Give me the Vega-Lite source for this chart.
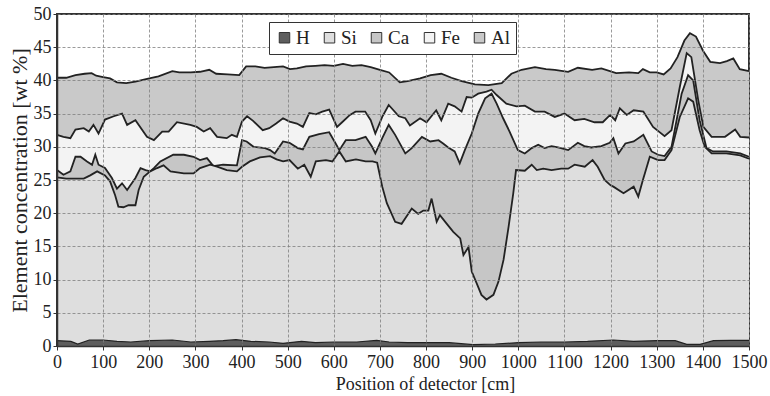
{
"$schema":"https://vega.github.io/schema/vega-lite/v6.json",
"width":692,"height":332,
"autosize":"none",
"padding":{"left":57,"top":14,"right":21,"bottom":50},
"background":"white",
"config":{"view":{"stroke":"#333","strokeWidth":2},"font":"Liberation Serif"},
"datasets":{
"Al":[{"s":"Al","x":0,"v":40.4},{"s":"Al","x":20,"v":40.4},{"s":"Al","x":40,"v":40.8},{"s":"Al","x":60,"v":41.0},{"s":"Al","x":75,"v":41.1},{"s":"Al","x":85,"v":40.7},{"s":"Al","x":100,"v":40.5},{"s":"Al","x":115,"v":40.3},{"s":"Al","x":130,"v":39.7},{"s":"Al","x":150,"v":39.6},{"s":"Al","x":170,"v":39.8},{"s":"Al","x":200,"v":40.3},{"s":"Al","x":220,"v":40.6},{"s":"Al","x":250,"v":41.4},{"s":"Al","x":265,"v":41.2},{"s":"Al","x":290,"v":41.2},{"s":"Al","x":310,"v":41.3},{"s":"Al","x":330,"v":41.6},{"s":"Al","x":345,"v":41.0},{"s":"Al","x":370,"v":40.9},{"s":"Al","x":395,"v":40.8},{"s":"Al","x":410,"v":42.1},{"s":"Al","x":430,"v":42.1},{"s":"Al","x":450,"v":41.9},{"s":"Al","x":470,"v":42.0},{"s":"Al","x":490,"v":42.1},{"s":"Al","x":505,"v":41.7},{"s":"Al","x":520,"v":41.8},{"s":"Al","x":540,"v":42.1},{"s":"Al","x":560,"v":42.2},{"s":"Al","x":580,"v":42.3},{"s":"Al","x":600,"v":42.2},{"s":"Al","x":620,"v":42.5},{"s":"Al","x":640,"v":42.2},{"s":"Al","x":660,"v":42.3},{"s":"Al","x":680,"v":42.0},{"s":"Al","x":700,"v":41.6},{"s":"Al","x":720,"v":41.2},{"s":"Al","x":743,"v":39.7},{"s":"Al","x":760,"v":39.9},{"s":"Al","x":787,"v":40.3},{"s":"Al","x":810,"v":40.8},{"s":"Al","x":833,"v":41.0},{"s":"Al","x":855,"v":40.4},{"s":"Al","x":877,"v":39.9},{"s":"Al","x":906,"v":39.4},{"s":"Al","x":935,"v":39.3},{"s":"Al","x":964,"v":39.6},{"s":"Al","x":985,"v":41.0},{"s":"Al","x":1007,"v":41.6},{"s":"Al","x":1036,"v":42.0},{"s":"Al","x":1060,"v":41.7},{"s":"Al","x":1079,"v":41.6},{"s":"Al","x":1108,"v":41.3},{"s":"Al","x":1129,"v":41.9},{"s":"Al","x":1160,"v":41.6},{"s":"Al","x":1180,"v":41.8},{"s":"Al","x":1212,"v":41.1},{"s":"Al","x":1240,"v":41.2},{"s":"Al","x":1260,"v":41.1},{"s":"Al","x":1270,"v":41.7},{"s":"Al","x":1285,"v":41.2},{"s":"Al","x":1300,"v":41.2},{"s":"Al","x":1315,"v":40.9},{"s":"Al","x":1330,"v":41.8},{"s":"Al","x":1345,"v":43.5},{"s":"Al","x":1360,"v":46.0},{"s":"Al","x":1372,"v":47.1},{"s":"Al","x":1385,"v":46.6},{"s":"Al","x":1400,"v":44.5},{"s":"Al","x":1416,"v":42.8},{"s":"Al","x":1437,"v":42.6},{"s":"Al","x":1452,"v":42.9},{"s":"Al","x":1466,"v":43.3},{"s":"Al","x":1480,"v":41.7},{"s":"Al","x":1500,"v":41.4}],
"Fe":[{"s":"Fe","x":0,"v":31.8},{"s":"Fe","x":14,"v":31.5},{"s":"Fe","x":29,"v":31.3},{"s":"Fe","x":40,"v":32.6},{"s":"Fe","x":58,"v":32.8},{"s":"Fe","x":69,"v":32.3},{"s":"Fe","x":79,"v":33.3},{"s":"Fe","x":90,"v":32.0},{"s":"Fe","x":104,"v":34.1},{"s":"Fe","x":123,"v":34.6},{"s":"Fe","x":141,"v":35.0},{"s":"Fe","x":152,"v":33.3},{"s":"Fe","x":170,"v":34.0},{"s":"Fe","x":195,"v":31.5},{"s":"Fe","x":210,"v":31.0},{"s":"Fe","x":228,"v":32.3},{"s":"Fe","x":242,"v":32.3},{"s":"Fe","x":260,"v":33.7},{"s":"Fe","x":289,"v":33.3},{"s":"Fe","x":303,"v":33.0},{"s":"Fe","x":318,"v":32.3},{"s":"Fe","x":332,"v":32.8},{"s":"Fe","x":347,"v":31.5},{"s":"Fe","x":368,"v":31.3},{"s":"Fe","x":379,"v":31.8},{"s":"Fe","x":390,"v":31.5},{"s":"Fe","x":401,"v":33.8},{"s":"Fe","x":412,"v":34.6},{"s":"Fe","x":425,"v":33.9},{"s":"Fe","x":446,"v":32.5},{"s":"Fe","x":460,"v":32.8},{"s":"Fe","x":475,"v":33.5},{"s":"Fe","x":490,"v":34.3},{"s":"Fe","x":504,"v":33.8},{"s":"Fe","x":520,"v":33.5},{"s":"Fe","x":533,"v":33.0},{"s":"Fe","x":547,"v":35.1},{"s":"Fe","x":561,"v":34.9},{"s":"Fe","x":575,"v":35.3},{"s":"Fe","x":590,"v":35.6},{"s":"Fe","x":607,"v":33.0},{"s":"Fe","x":618,"v":33.7},{"s":"Fe","x":635,"v":34.8},{"s":"Fe","x":647,"v":35.3},{"s":"Fe","x":668,"v":35.3},{"s":"Fe","x":680,"v":34.0},{"s":"Fe","x":690,"v":32.0},{"s":"Fe","x":705,"v":34.5},{"s":"Fe","x":719,"v":36.3},{"s":"Fe","x":741,"v":34.6},{"s":"Fe","x":755,"v":34.3},{"s":"Fe","x":765,"v":33.2},{"s":"Fe","x":787,"v":34.3},{"s":"Fe","x":801,"v":33.7},{"s":"Fe","x":822,"v":35.5},{"s":"Fe","x":833,"v":34.0},{"s":"Fe","x":848,"v":36.5},{"s":"Fe","x":862,"v":36.1},{"s":"Fe","x":877,"v":35.3},{"s":"Fe","x":888,"v":37.5},{"s":"Fe","x":899,"v":37.4},{"s":"Fe","x":913,"v":38.0},{"s":"Fe","x":931,"v":38.3},{"s":"Fe","x":942,"v":38.6},{"s":"Fe","x":953,"v":37.8},{"s":"Fe","x":974,"v":36.5},{"s":"Fe","x":996,"v":36.1},{"s":"Fe","x":1014,"v":36.2},{"s":"Fe","x":1036,"v":35.3},{"s":"Fe","x":1057,"v":35.3},{"s":"Fe","x":1079,"v":34.5},{"s":"Fe","x":1100,"v":35.0},{"s":"Fe","x":1122,"v":34.0},{"s":"Fe","x":1143,"v":34.2},{"s":"Fe","x":1165,"v":33.7},{"s":"Fe","x":1183,"v":33.7},{"s":"Fe","x":1199,"v":34.8},{"s":"Fe","x":1210,"v":34.0},{"s":"Fe","x":1220,"v":35.8},{"s":"Fe","x":1235,"v":34.8},{"s":"Fe","x":1250,"v":35.5},{"s":"Fe","x":1271,"v":35.3},{"s":"Fe","x":1292,"v":33.0},{"s":"Fe","x":1317,"v":31.6},{"s":"Fe","x":1332,"v":32.5},{"s":"Fe","x":1350,"v":39.0},{"s":"Fe","x":1365,"v":44.1},{"s":"Fe","x":1375,"v":43.5},{"s":"Fe","x":1390,"v":37.0},{"s":"Fe","x":1401,"v":33.0},{"s":"Fe","x":1419,"v":31.5},{"s":"Fe","x":1448,"v":31.5},{"s":"Fe","x":1470,"v":32.6},{"s":"Fe","x":1481,"v":31.5},{"s":"Fe","x":1500,"v":31.4}],
"Ca":[{"s":"Ca","x":0,"v":26.5},{"s":"Ca","x":14,"v":25.8},{"s":"Ca","x":29,"v":26.3},{"s":"Ca","x":40,"v":28.5},{"s":"Ca","x":51,"v":28.5},{"s":"Ca","x":65,"v":27.8},{"s":"Ca","x":76,"v":27.3},{"s":"Ca","x":83,"v":28.8},{"s":"Ca","x":90,"v":27.3},{"s":"Ca","x":104,"v":26.8},{"s":"Ca","x":119,"v":25.3},{"s":"Ca","x":130,"v":23.7},{"s":"Ca","x":141,"v":24.5},{"s":"Ca","x":152,"v":23.5},{"s":"Ca","x":170,"v":25.3},{"s":"Ca","x":181,"v":26.8},{"s":"Ca","x":192,"v":26.5},{"s":"Ca","x":202,"v":26.3},{"s":"Ca","x":210,"v":26.8},{"s":"Ca","x":224,"v":27.8},{"s":"Ca","x":252,"v":28.8},{"s":"Ca","x":275,"v":28.8},{"s":"Ca","x":296,"v":28.5},{"s":"Ca","x":310,"v":28.0},{"s":"Ca","x":325,"v":28.3},{"s":"Ca","x":339,"v":27.1},{"s":"Ca","x":360,"v":27.3},{"s":"Ca","x":390,"v":27.2},{"s":"Ca","x":401,"v":31.0},{"s":"Ca","x":411,"v":30.8},{"s":"Ca","x":426,"v":30.0},{"s":"Ca","x":451,"v":29.8},{"s":"Ca","x":462,"v":29.5},{"s":"Ca","x":472,"v":29.0},{"s":"Ca","x":490,"v":30.8},{"s":"Ca","x":504,"v":30.6},{"s":"Ca","x":522,"v":29.8},{"s":"Ca","x":533,"v":29.6},{"s":"Ca","x":547,"v":31.5},{"s":"Ca","x":568,"v":31.9},{"s":"Ca","x":590,"v":32.2},{"s":"Ca","x":604,"v":30.5},{"s":"Ca","x":612,"v":29.5},{"s":"Ca","x":626,"v":31.0},{"s":"Ca","x":647,"v":31.0},{"s":"Ca","x":669,"v":31.5},{"s":"Ca","x":683,"v":30.0},{"s":"Ca","x":690,"v":29.0},{"s":"Ca","x":705,"v":31.3},{"s":"Ca","x":719,"v":33.3},{"s":"Ca","x":733,"v":31.8},{"s":"Ca","x":755,"v":29.0},{"s":"Ca","x":769,"v":29.8},{"s":"Ca","x":791,"v":31.5},{"s":"Ca","x":809,"v":30.8},{"s":"Ca","x":827,"v":31.0},{"s":"Ca","x":837,"v":30.5},{"s":"Ca","x":848,"v":29.9},{"s":"Ca","x":862,"v":29.3},{"s":"Ca","x":873,"v":27.5},{"s":"Ca","x":884,"v":29.5},{"s":"Ca","x":899,"v":32.0},{"s":"Ca","x":913,"v":35.0},{"s":"Ca","x":928,"v":37.3},{"s":"Ca","x":942,"v":38.0},{"s":"Ca","x":953,"v":36.5},{"s":"Ca","x":967,"v":34.3},{"s":"Ca","x":981,"v":32.3},{"s":"Ca","x":999,"v":29.5},{"s":"Ca","x":1014,"v":29.0},{"s":"Ca","x":1029,"v":29.8},{"s":"Ca","x":1043,"v":30.3},{"s":"Ca","x":1057,"v":29.8},{"s":"Ca","x":1072,"v":30.1},{"s":"Ca","x":1086,"v":29.9},{"s":"Ca","x":1108,"v":29.5},{"s":"Ca","x":1129,"v":30.6},{"s":"Ca","x":1143,"v":30.1},{"s":"Ca","x":1158,"v":29.9},{"s":"Ca","x":1180,"v":30.1},{"s":"Ca","x":1198,"v":30.6},{"s":"Ca","x":1206,"v":31.3},{"s":"Ca","x":1217,"v":29.0},{"s":"Ca","x":1232,"v":30.5},{"s":"Ca","x":1250,"v":30.8},{"s":"Ca","x":1271,"v":31.8},{"s":"Ca","x":1289,"v":29.3},{"s":"Ca","x":1303,"v":28.8},{"s":"Ca","x":1317,"v":28.6},{"s":"Ca","x":1332,"v":30.0},{"s":"Ca","x":1354,"v":38.0},{"s":"Ca","x":1368,"v":40.8},{"s":"Ca","x":1379,"v":40.0},{"s":"Ca","x":1393,"v":34.0},{"s":"Ca","x":1408,"v":29.8},{"s":"Ca","x":1422,"v":29.3},{"s":"Ca","x":1451,"v":29.3},{"s":"Ca","x":1481,"v":29.0},{"s":"Ca","x":1500,"v":28.5}],
"Si":[{"s":"Si","x":0,"v":25.4},{"s":"Si","x":20,"v":25.2},{"s":"Si","x":43,"v":25.2},{"s":"Si","x":58,"v":25.2},{"s":"Si","x":72,"v":25.7},{"s":"Si","x":87,"v":26.3},{"s":"Si","x":104,"v":25.7},{"s":"Si","x":115,"v":24.8},{"s":"Si","x":126,"v":22.7},{"s":"Si","x":133,"v":21.0},{"s":"Si","x":144,"v":20.9},{"s":"Si","x":155,"v":21.2},{"s":"Si","x":170,"v":21.2},{"s":"Si","x":177,"v":23.5},{"s":"Si","x":188,"v":25.5},{"s":"Si","x":202,"v":26.3},{"s":"Si","x":217,"v":26.8},{"s":"Si","x":231,"v":27.2},{"s":"Si","x":246,"v":26.3},{"s":"Si","x":275,"v":26.0},{"s":"Si","x":296,"v":26.0},{"s":"Si","x":310,"v":26.8},{"s":"Si","x":332,"v":27.3},{"s":"Si","x":347,"v":27.0},{"s":"Si","x":368,"v":26.5},{"s":"Si","x":390,"v":26.3},{"s":"Si","x":401,"v":27.0},{"s":"Si","x":418,"v":27.8},{"s":"Si","x":440,"v":28.4},{"s":"Si","x":462,"v":28.6},{"s":"Si","x":476,"v":28.1},{"s":"Si","x":490,"v":27.8},{"s":"Si","x":504,"v":28.0},{"s":"Si","x":522,"v":26.7},{"s":"Si","x":536,"v":27.3},{"s":"Si","x":550,"v":25.5},{"s":"Si","x":561,"v":27.8},{"s":"Si","x":583,"v":28.0},{"s":"Si","x":597,"v":27.8},{"s":"Si","x":612,"v":29.3},{"s":"Si","x":626,"v":27.8},{"s":"Si","x":648,"v":28.1},{"s":"Si","x":669,"v":27.8},{"s":"Si","x":684,"v":27.8},{"s":"Si","x":694,"v":27.6},{"s":"Si","x":705,"v":24.0},{"s":"Si","x":715,"v":21.5},{"s":"Si","x":733,"v":18.7},{"s":"Si","x":747,"v":18.4},{"s":"Si","x":769,"v":20.7},{"s":"Si","x":783,"v":19.9},{"s":"Si","x":794,"v":20.4},{"s":"Si","x":805,"v":20.4},{"s":"Si","x":812,"v":22.2},{"s":"Si","x":823,"v":18.7},{"s":"Si","x":830,"v":19.7},{"s":"Si","x":845,"v":18.4},{"s":"Si","x":859,"v":17.2},{"s":"Si","x":874,"v":16.2},{"s":"Si","x":881,"v":13.7},{"s":"Si","x":892,"v":14.9},{"s":"Si","x":899,"v":11.2},{"s":"Si","x":910,"v":9.4},{"s":"Si","x":920,"v":7.7},{"s":"Si","x":931,"v":7.0},{"s":"Si","x":946,"v":7.7},{"s":"Si","x":957,"v":9.7},{"s":"Si","x":968,"v":13.0},{"s":"Si","x":979,"v":18.0},{"s":"Si","x":989,"v":23.0},{"s":"Si","x":995,"v":26.5},{"s":"Si","x":1014,"v":26.4},{"s":"Si","x":1029,"v":27.3},{"s":"Si","x":1040,"v":26.5},{"s":"Si","x":1054,"v":26.7},{"s":"Si","x":1072,"v":26.5},{"s":"Si","x":1093,"v":26.7},{"s":"Si","x":1108,"v":26.7},{"s":"Si","x":1122,"v":27.3},{"s":"Si","x":1144,"v":27.0},{"s":"Si","x":1161,"v":28.0},{"s":"Si","x":1172,"v":27.0},{"s":"Si","x":1187,"v":25.0},{"s":"Si","x":1200,"v":24.2},{"s":"Si","x":1206,"v":24.0},{"s":"Si","x":1228,"v":23.0},{"s":"Si","x":1250,"v":24.0},{"s":"Si","x":1260,"v":22.5},{"s":"Si","x":1270,"v":25.0},{"s":"Si","x":1285,"v":28.5},{"s":"Si","x":1303,"v":28.0},{"s":"Si","x":1317,"v":28.0},{"s":"Si","x":1332,"v":29.5},{"s":"Si","x":1350,"v":34.5},{"s":"Si","x":1368,"v":37.3},{"s":"Si","x":1379,"v":36.8},{"s":"Si","x":1393,"v":32.5},{"s":"Si","x":1404,"v":30.0},{"s":"Si","x":1419,"v":29.0},{"s":"Si","x":1451,"v":29.0},{"s":"Si","x":1481,"v":28.7},{"s":"Si","x":1500,"v":28.2}],
"H":[{"s":"H","x":0,"v":0.8},{"s":"H","x":30,"v":0.7},{"s":"H","x":45,"v":0.3},{"s":"H","x":70,"v":0.9},{"s":"H","x":100,"v":0.9},{"s":"H","x":130,"v":0.7},{"s":"H","x":160,"v":0.6},{"s":"H","x":200,"v":0.8},{"s":"H","x":250,"v":0.9},{"s":"H","x":290,"v":0.6},{"s":"H","x":330,"v":0.7},{"s":"H","x":360,"v":0.8},{"s":"H","x":388,"v":0.95},{"s":"H","x":420,"v":0.7},{"s":"H","x":460,"v":0.6},{"s":"H","x":490,"v":0.4},{"s":"H","x":530,"v":0.7},{"s":"H","x":560,"v":0.5},{"s":"H","x":600,"v":0.6},{"s":"H","x":650,"v":0.6},{"s":"H","x":693,"v":0.85},{"s":"H","x":720,"v":0.6},{"s":"H","x":760,"v":0.5},{"s":"H","x":800,"v":0.5},{"s":"H","x":850,"v":0.5},{"s":"H","x":902,"v":0.2},{"s":"H","x":950,"v":0.3},{"s":"H","x":1000,"v":0.5},{"s":"H","x":1050,"v":0.6},{"s":"H","x":1100,"v":0.6},{"s":"H","x":1150,"v":0.7},{"s":"H","x":1206,"v":0.9},{"s":"H","x":1250,"v":0.7},{"s":"H","x":1300,"v":0.8},{"s":"H","x":1340,"v":0.8},{"s":"H","x":1365,"v":0.25},{"s":"H","x":1394,"v":0.25},{"s":"H","x":1423,"v":0.8},{"s":"H","x":1460,"v":0.85},{"s":"H","x":1500,"v":0.85}]
},
"encoding":{
"x":{"field":"x","type":"quantitative","scale":{"domain":[0,1500],"nice":false,"zero":false},
"axis":{"values":[0,100,200,300,400,500,600,700,800,900,1000,1100,1200,1300,1400,1500],"format":"d","title":"Position of detector [cm]","titleX":368,"titleAlign":"center","grid":true,"gridDash":[3,2],"gridColor":"#808080","gridWidth":0.8,"domainColor":"#333","domainWidth":1.5,"tickColor":"#333","tickSize":4,"labelFontSize":18,"labelColor":"#222","labelFlush":false,"labelOverlap":false,"labelPadding":3,"titleFontSize":18,"titleFontWeight":"normal","titleColor":"#222","titlePadding":4,"zindex":1}},
"y":{"field":"v","type":"quantitative","stack":null,"scale":{"domain":[0,50],"nice":false},
"axis":{"values":[0,5,10,15,20,25,30,35,40,45,50],"title":"Element concentration [wt %]","grid":true,"gridDash":[3,2],"gridColor":"#808080","gridWidth":0.8,"domainColor":"#333","domainWidth":1.5,"tickColor":"#333","tickSize":4,"labelFontSize":18,"labelColor":"#222","labelPadding":2,"titleFontSize":22,"titleFontWeight":"normal","titleColor":"#222","titlePadding":2,"zindex":1}}
},
"layer":[
{"data":{"name":"Al"},"mark":{"type":"area","opacity":1},"encoding":{"fill":{"field":"s","type":"nominal","scale":{"domain":["H","Si","Ca","Fe","Al"],"range":["#5e5e5e","#dedede","#c6c6c6","#f3f3f3","#c9c9c9"]},"legend":{"orient":"none","legendX":212,"legendY":8,"direction":"horizontal","title":null,"symbolType":"square","symbolSize":110,"symbolStrokeColor":"#333","symbolStrokeWidth":1,"symbolOpacity":1,"labelFontSize":19,"labelFont":"Liberation Serif","labelColor":"#222","columnPadding":10,"labelOffset":2,"padding":6,"strokeColor":"#333","fillColor":"white","zindex":2}}}},
{"data":{"name":"Al"},"mark":{"type":"line","color":"#222","strokeWidth":1.8},"encoding":{}},
{"data":{"name":"Fe"},"mark":{"type":"area","opacity":1},"encoding":{"fill":{"field":"s","type":"nominal"}}},
{"data":{"name":"Fe"},"mark":{"type":"line","color":"#222","strokeWidth":1.8},"encoding":{}},
{"data":{"name":"Ca"},"mark":{"type":"area","opacity":1},"encoding":{"fill":{"field":"s","type":"nominal"}}},
{"data":{"name":"Ca"},"mark":{"type":"line","color":"#222","strokeWidth":1.8},"encoding":{}},
{"data":{"name":"Si"},"mark":{"type":"area","opacity":1},"encoding":{"fill":{"field":"s","type":"nominal"}}},
{"data":{"name":"Si"},"mark":{"type":"line","color":"#222","strokeWidth":1.8},"encoding":{}},
{"data":{"name":"H"},"mark":{"type":"area","opacity":1},"encoding":{"fill":{"field":"s","type":"nominal"}}},
{"data":{"name":"H"},"mark":{"type":"line","color":"#222","strokeWidth":1.2},"encoding":{}}
]
}
